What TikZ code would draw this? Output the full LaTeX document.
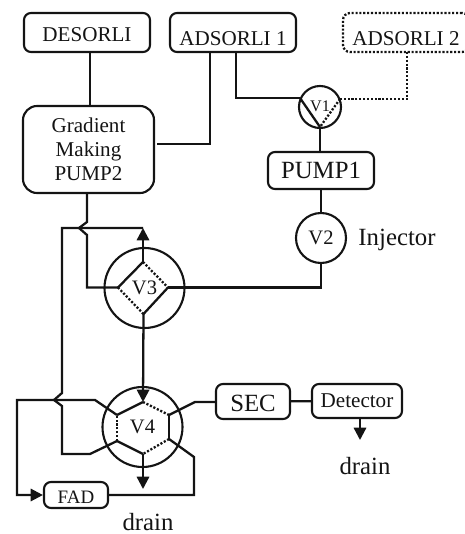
\documentclass[tikz,border=0pt]{standalone}
\usepackage{fontspec}
\setmainfont{Liberation Serif}
\usepackage{tikz}
\usetikzlibrary{arrows.meta, positioning, calc}
\definecolor{inkline}{RGB}{20, 20, 20}
\tikzset{
	unitbox/.style={draw=inkline,line width=1.2pt,rounded corners=4pt,inner sep=0pt,font=\fontsize{12}{13.6}\selectfont,text=inkline},
	valve/.style={draw=inkline,circle,line width=1.2pt,inner sep=0pt,font=\fontsize{11.7}{13}\selectfont,text=inkline},
	pipe/.style={inkline,line width=1.3pt},
	pipeoff/.style={inkline,line width=1.3pt,dash pattern=on 1.2pt off 1pt},
	flow/.style={pipe,-{Triangle[length=7pt,width=7pt]}},
	tag/.style={inkline,font=\fontsize{14.1}{16}\selectfont,inner sep=0pt}
}

\begin{document}
\begin{tikzpicture}[x=0.02cm,y=-0.02cm]
	\useasboundingbox (0,0) rectangle (465,534);
	% units
	\node[unitbox,text height=10.8pt,text depth=0pt,minimum width=126*0.02cm,minimum height=39*0.02cm] (desorli) at (87,32.5) {DESORLI};
	\node[unitbox,text height=14.6pt,text depth=0pt,minimum width=126*0.02cm,minimum height=39*0.02cm] (adsorli1) at (233,32.5) {ADSORLI 1};
	\node[unitbox,pipeoff,text height=14.6pt,text depth=0pt,minimum width=126*0.02cm,minimum height=39*0.02cm] (adsorli2) at (406,32.5) {ADSORLI 2};
	\node[unitbox,rounded corners=8pt,align=center,minimum width=131*0.02cm,minimum height=87*0.02cm] (gradient) at (88.5,149.5) {Gradient\\Making\\PUMP2};
	\node[unitbox,font=\fontsize{14.1}{16}\selectfont,minimum width=106*0.02cm,minimum height=37*0.02cm] (pump1) at (321,170.5) {PUMP1};
	\node[unitbox,font=\fontsize{14.1}{16}\selectfont,text height=11.6pt,text depth=0pt,minimum width=74*0.02cm,minimum height=35*0.02cm] (sec) at (253,401.5) {SEC};
	\node[unitbox,minimum width=90*0.02cm,minimum height=34*0.02cm] (detector) at (357,401) {Detector};
	\node[unitbox,font=\fontsize{10.8}{12}\selectfont,text height=10.1pt,text depth=0pt,minimum width=64*0.02cm,minimum height=26*0.02cm] (fad) at (76,495) {FAD};
	% valves
	\node[valve,minimum size=42*0.02cm,font=\fontsize{9.2}{10}\selectfont] (v1) at (320,107) {\raisebox{1pt}{V1}};
	\node[valve,minimum size=50*0.02cm] (v2) at (321,238) {V2};
	\node[valve,minimum size=80*0.02cm] (v3) at (144.5,288) {V3};
	\node[valve,minimum size=80*0.02cm] (v4) at (142.5,427) {V4};
	\node[tag] (injector) at (397,240) {Injector};
	\node[tag] (drainb) at (148,522.5) {drain};
	\node[tag] (drainc) at (365,466) {drain};
	% ports
	\coordinate (v1l) at (300,98);
	\coordinate (v1r) at (340,99);
	\coordinate (v1b) at (320,127);
	\coordinate (v3t) at (143,262);
	\coordinate (v3r) at (168,287.5);
	\coordinate (v3b) at (143.5,314);
	\coordinate (v3l) at (118,287.5);
	\coordinate (v4t) at (143,402);
	\coordinate (v4ur) at (169,415);
	\coordinate (v4lr) at (169,439);
	\coordinate (v4b) at (143,454);
	\coordinate (v4ll) at (117,441);
	\coordinate (v4ul) at (117,415);
	\coordinate (adsa) at (210,52);
	\coordinate (adsb) at (236,52);
	\coordinate (adsc) at (407,52);
	\coordinate (gradr) at (157,144);
	\coordinate (gradb) at (87,193);
	\coordinate (v3top) at (143,228);
	\coordinate (drainv4) at (143,489);
	\coordinate (draindet) at (360,440);
	% valve inside
	\draw[pipe] (v1l)--(v1b);
	\draw[pipeoff] (v1r)--(v1b);
	\draw[pipe] (v3l)--(v3t);
	\draw[pipe] (v3r)--(v3b);
	\draw[pipeoff] (v3t)--(v3r);
	\draw[pipeoff] (v3b)--(v3l);
	\draw[pipe] (v4ul)--(v4t);
	\draw[pipe] (v4ur)--(v4lr);
	\draw[pipe] (v4b)--(v4ll);
	\draw[pipeoff] (v4t)--(v4ur);
	\draw[pipeoff] (v4lr)--(v4b);
	\draw[pipeoff] (v4ll)--(v4ul);
	% lines
	\draw[pipe] (desorli.south -| 90,0)--(gradient.north -| 90,0);
	\draw[pipe] (adsa)--(210,144)--(gradr);
	\draw[pipe] (adsb)--(236,98)--(v1l);
	\draw[pipeoff] (adsc)--(407,99)--(v1r);
	\draw[pipe] (v1b)--(pump1.north -| v1b);
	\draw[pipe] (pump1.south -| v2)--(v2);
	\draw[pipe] (v2)--(v2 |- v3r)--(v3r);
	\draw[pipe] (gradb)--(87,222)--(79,228)--(87,235)--(87,287.5)--(v3l);
	\draw[flow] (v3t)--(v3top);
	\draw[pipe] (v3top)--(62,228)--(62,393)--(54,400)--(62,406)--(62,454)--(90,454)--(v4ll);
	\draw[flow] (v3b)--(v4t);
	\draw[flow] (v4b)--(drainv4);
	\draw[flow] (v4ul)--(95,400)--(17,400)--(17,495)--(fad);
	\draw[pipe] (fad)--(194,495)--(194,457)--(v4lr);
	\draw[pipe] (v4ur)--(195,402)--(sec.west |- 0,402);
	\draw[pipe] (sec)--(detector);
	\draw[flow] (detector.south -| draindet)--(draindet);
\end{tikzpicture}
\end{document}
